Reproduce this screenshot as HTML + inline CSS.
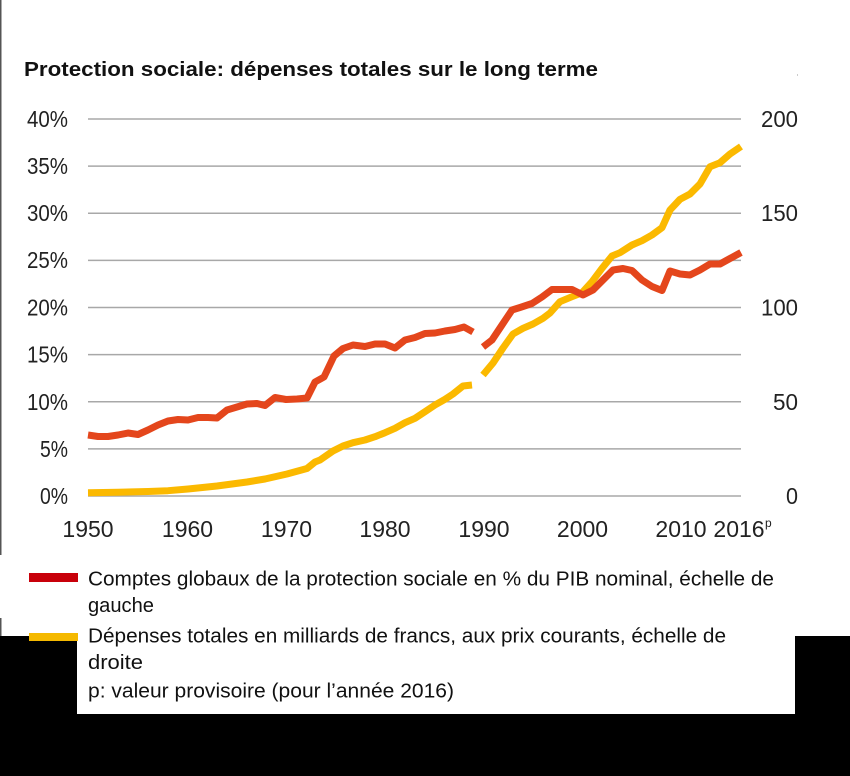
<!DOCTYPE html>
<html>
<head>
<meta charset="utf-8">
<style>
  html,body{margin:0;padding:0;background:#fff;}
  svg{display:block;}
  text{font-family:"Liberation Sans", sans-serif;}
</style>
</head>
<body>
<svg width="850" height="776" viewBox="0 0 850 776" xmlns="http://www.w3.org/2000/svg">
  <rect x="0" y="0" width="850" height="776" fill="#fff"/>
  <!-- black bottom areas -->
  <rect x="0" y="636" width="850" height="140" fill="#000"/>
  <rect x="77" y="636" width="718" height="78" fill="#fff"/>
  <!-- left edge line -->
  <rect x="0" y="0" width="1.5" height="555" fill="#555"/>
  <rect x="0" y="618" width="1.5" height="18" fill="#555"/>
  <rect x="797" y="74" width="1" height="2" fill="#ccc"/>

  <!-- title -->
  <text x="24" y="76" font-size="20" font-weight="bold" fill="#111" textLength="574" lengthAdjust="spacingAndGlyphs">Protection sociale: dépenses totales sur le long terme</text>

  <!-- gridlines -->
  <g stroke="#a8a8a8" stroke-width="1.5">
    <line x1="88" y1="119" x2="741" y2="119"/>
    <line x1="88" y1="166.1" x2="741" y2="166.1"/>
    <line x1="88" y1="213.3" x2="741" y2="213.3"/>
    <line x1="88" y1="260.4" x2="741" y2="260.4"/>
    <line x1="88" y1="307.5" x2="741" y2="307.5"/>
    <line x1="88" y1="354.6" x2="741" y2="354.6"/>
    <line x1="88" y1="401.8" x2="741" y2="401.8"/>
    <line x1="88" y1="448.9" x2="741" y2="448.9"/>
    <line x1="88" y1="496" x2="741" y2="496"/>
  </g>

  <!-- left axis labels -->
  <g font-size="23" fill="#222" text-anchor="end">
    <text x="68" y="127" textLength="41" lengthAdjust="spacingAndGlyphs">40%</text>
    <text x="68" y="174" textLength="41" lengthAdjust="spacingAndGlyphs">35%</text>
    <text x="68" y="221" textLength="41" lengthAdjust="spacingAndGlyphs">30%</text>
    <text x="68" y="268" textLength="41" lengthAdjust="spacingAndGlyphs">25%</text>
    <text x="68" y="315.5" textLength="41" lengthAdjust="spacingAndGlyphs">20%</text>
    <text x="68" y="362.5" textLength="41" lengthAdjust="spacingAndGlyphs">15%</text>
    <text x="68" y="409.8" textLength="41" lengthAdjust="spacingAndGlyphs">10%</text>
    <text x="68" y="457" textLength="28" lengthAdjust="spacingAndGlyphs">5%</text>
    <text x="68" y="504" textLength="28" lengthAdjust="spacingAndGlyphs">0%</text>
  </g>

  <!-- right axis labels -->
  <g font-size="23" fill="#222" text-anchor="end">
    <text x="798" y="127" textLength="37" lengthAdjust="spacingAndGlyphs">200</text>
    <text x="798" y="221" textLength="37" lengthAdjust="spacingAndGlyphs">150</text>
    <text x="798" y="315.5" textLength="37" lengthAdjust="spacingAndGlyphs">100</text>
    <text x="798" y="409.8" textLength="25" lengthAdjust="spacingAndGlyphs">50</text>
    <text x="798" y="504" textLength="12" lengthAdjust="spacingAndGlyphs">0</text>
  </g>

  <!-- x axis labels -->
  <g font-size="23" fill="#222" text-anchor="middle">
    <text x="88" y="537">1950</text>
    <text x="187.5" y="537">1960</text>
    <text x="286.5" y="537">1970</text>
    <text x="385" y="537">1980</text>
    <text x="484" y="537">1990</text>
    <text x="582.5" y="537">2000</text>
    <text x="681" y="537">2010</text>
    <text x="739" y="537">2016</text>
  </g>
  <text x="765" y="527" font-size="12" fill="#222">p</text>

  <!-- yellow series -->
  <g fill="none" stroke="#fbb900" stroke-width="7" stroke-linejoin="round" stroke-linecap="butt">
    <polyline points="88,492.7 118,492.3 148,491.5 168,490.7 188,489 217,486 247,482 265,479 287,474 307,468.5 315,462 320,460 333,451 343,446 353,442.7 365,440 375,436.7 385,432.7 395,428.3 405,422.7 415,418.3 425,411.7 435,405 445,399.3 453,394 463,386 472,385"/>
    <polyline points="483,375 493,363 503,348 513,334 523,328.3 533,324 543,318.3 550,313 555,307.3 560,301.7 572,296.7 582,292.7 592,281.7 602,268.3 612,256 620,252.7 632,245 642,240.7 652,235 662,227.7 670,210 680,199.3 690,194 700,184 710,166.7 720,162.7 730,154 741,146.5"/>
  </g>

  <!-- red series -->
  <g fill="none" stroke="#e4461c" stroke-width="7" stroke-linejoin="round" stroke-linecap="butt">
    <polyline points="88,435 98,436.5 108,436.5 118,435 128,433 138,434.5 148,430 158,425 168,421 178,419.5 188,420 198,417.5 208,417.5 217,418 227,410 237,407 247,404 257,403.5 265,405.5 275,397.5 286,399.5 297,399 307,398 315,382 324,377 334,356 343,348.5 353,345 365,346.5 375,344 385,344 395,348 405,340 415,337.5 425,333.5 435,333 445,331 455,329.5 464,327 473,332"/>
    <polyline points="483,347 492,340 502,325 512,310 520,307.5 532,303.5 542,297 552,289.5 562,289.5 572,289.5 583,295 593,290 603,280 613,270 623,268.5 632,270.5 642,280 652,286.5 662,290.5 670,271 680,274 690,275 700,270 710,264 720,264 730,258.5 741,252.5"/>
  </g>

  <!-- legend -->
  <rect x="29" y="573" width="49" height="9" fill="#c8000a"/>
  <rect x="29" y="633" width="49" height="8" fill="#f5b900"/>
  <g font-size="20.5" fill="#111">
    <text x="88" y="585.5" textLength="686" lengthAdjust="spacingAndGlyphs">Comptes globaux de la protection sociale en % du PIB nominal, échelle de</text>
    <text x="88" y="612" textLength="66" lengthAdjust="spacingAndGlyphs">gauche</text>
    <text x="88" y="642.5" textLength="638" lengthAdjust="spacingAndGlyphs">Dépenses totales en milliards de francs, aux prix courants, échelle de</text>
    <text x="88" y="669" textLength="55" lengthAdjust="spacingAndGlyphs">droite</text>
    <text x="88" y="697.5" textLength="366" lengthAdjust="spacingAndGlyphs">p: valeur provisoire (pour l’année 2016)</text>
  </g>
</svg>
</body>
</html>
